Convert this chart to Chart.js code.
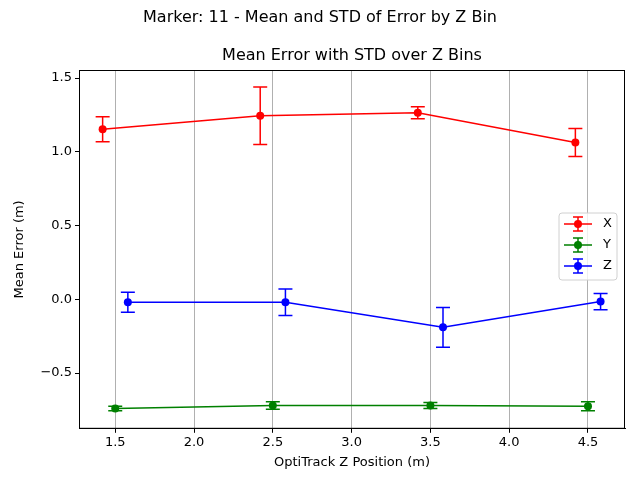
<!DOCTYPE html>
<html>
<head>
<meta charset="UTF-8">
<script src="https://cdn.jsdelivr.net/npm/chart.js"></script>
<style>
  body { margin: 0; background: #fff; }
  #wrap { width: 640px; height: 480px; }
</style>
</head>
<body>
<div id="wrap"><canvas id="c" width="640" height="480"></canvas></div>
<script>
const seriesNames = ['X', 'Y', 'Z'];
const seriesColors = ['#ff0000', '#008000', '#0000ff'];
const xPos = [
  [1.42, 2.42, 3.42, 4.42],
  [1.5, 2.5, 3.5, 4.5],
  [1.58, 2.58, 3.58, 4.58]
];
const means = [
  [1.153, 1.245, 1.265, 1.063],
  [-0.74, -0.72, -0.72, -0.725],
  [-0.02, -0.02, -0.19, -0.015]
];
const stds = [
  [0.085, 0.195, 0.04, 0.095],
  [0.015, 0.025, 0.02, 0.03],
  [0.068, 0.09, 0.135, 0.055]
];
const xTicks = [1.5, 2.0, 2.5, 3.0, 3.5, 4.0, 4.5];
const yTicks = [-0.5, 0.0, 0.5, 1.0, 1.5];

const FONT = 'DejaVu Sans';
Chart.defaults.font.family = FONT;
Chart.defaults.color = '#000';

const datasets = seriesNames.map((n, i) => ({
  label: n,
  data: xPos[i].map((x, j) => ({ x: x, y: means[i][j], s: stds[i][j] })),
  borderColor: seriesColors[i],
  backgroundColor: seriesColors[i],
  pointRadius: 4,
  pointHoverRadius: 4,
  pointBorderWidth: 0,
  borderWidth: 1.5,
  showLine: true
}));

const errorBars = {
  id: 'errorBars',
  afterDatasetsDraw(chart) {
    const ctx = chart.ctx, xs = chart.scales.x, ys = chart.scales.y;
    ctx.save();
    chart.data.datasets.forEach(ds => {
      ctx.strokeStyle = ds.borderColor;
      ctx.lineWidth = 1.5;
      ds.data.forEach(p => {
        const px = xs.getPixelForValue(p.x);
        const t = ys.getPixelForValue(p.y + p.s), b = ys.getPixelForValue(p.y - p.s);
        ctx.beginPath();
        ctx.moveTo(px, t); ctx.lineTo(px, b);
        ctx.moveTo(px - 7, t); ctx.lineTo(px + 7, t);
        ctx.moveTo(px - 7, b); ctx.lineTo(px + 7, b);
        ctx.stroke();
      });
    });
    ctx.restore();
  },
  afterDraw(chart) {
    const ctx = chart.ctx, a = chart.chartArea;
    ctx.save();
    ctx.strokeStyle = '#000';
    ctx.lineWidth = 1;
    ctx.strokeRect(a.left + 0.5, a.top + 0.5, a.right - a.left - 1, a.bottom - a.top - 1);
    ctx.fillStyle = '#000';
    ctx.textAlign = 'center';
    ctx.textBaseline = 'middle';
    ctx.font = '16px ' + FONT;
    ctx.fillText('Marker: 11 - Mean and STD of Error by Z Bin', 320, 18);
    ctx.fillText('Mean Error with STD over Z Bins', (a.left + a.right) / 2, 56);
    // legend box
    const lx = 559, ly = 213, lw = 58, lh = 67;
    ctx.fillStyle = 'rgba(255,255,255,0.8)';
    ctx.strokeStyle = '#d0d0d0';
    ctx.lineWidth = 1;
    ctx.beginPath();
    ctx.roundRect(lx, ly, lw, lh, 3);
    ctx.fill(); ctx.stroke();
    ctx.font = '13px ' + FONT;
    ctx.textAlign = 'left';
    seriesNames.forEach((n, i) => {
      const y = ly + 11 + i * 21;
      ctx.strokeStyle = seriesColors[i];
      ctx.fillStyle = seriesColors[i];
      ctx.lineWidth = 1.5;
      ctx.beginPath();
      ctx.moveTo(564, y); ctx.lineTo(592, y);
      ctx.moveTo(578, y - 7); ctx.lineTo(578, y + 7);
      ctx.moveTo(573, y - 7); ctx.lineTo(583, y - 7);
      ctx.moveTo(573, y + 7); ctx.lineTo(583, y + 7);
      ctx.stroke();
      ctx.beginPath(); ctx.arc(578, y, 4, 0, Math.PI * 2); ctx.fill();
      ctx.fillStyle = '#000';
      ctx.fillText(n, 603, y);
    });
    ctx.restore();
  }
};

const fmt = v => (Math.abs(v) < 1e-9 ? 0 : v).toFixed(1).replace('-', '\u2212');

new Chart(document.getElementById('c'), {
  type: 'scatter',
  data: { datasets },
  plugins: [errorBars],
  options: {
    responsive: false,
    animation: false,
    events: [],
    layout: { padding: { top: 70, right: 15, left: 8, bottom: 8 } },
    plugins: { legend: { display: false }, tooltip: { enabled: false } },
    scales: {
      x: {
        type: 'linear', min: 1.27, max: 4.735,
        afterBuildTicks: s => { s.ticks = xTicks.map(v => ({ value: v })); },
        ticks: { callback: v => v.toFixed(1), font: { size: 13 }, maxRotation: 0, padding: 2 },
        grid: { color: '#b0b0b0', drawTicks: true, tickLength: 4, tickColor: '#000' },
        border: { color: '#000', width: 1 },
        title: { display: true, text: 'OptiTrack Z Position (m)', font: { size: 13 }, padding: { top: 2, bottom: 2 } }
      },
      y: {
        type: 'linear', min: -0.878, max: 1.555,
        afterBuildTicks: s => { s.ticks = yTicks.map(v => ({ value: v })); },
        afterFit: s => { s.width = 71; },
        ticks: { callback: v => fmt(v), font: { size: 13 }, padding: 3 },
        grid: { display: true, drawOnChartArea: false, tickLength: 4, tickColor: '#000' },
        border: { color: '#000', width: 1 },
        title: { display: true, text: 'Mean Error (m)', font: { size: 13 }, padding: { bottom: 2 } }
      }
    }
  },
});
</script>
</body>
</html>
